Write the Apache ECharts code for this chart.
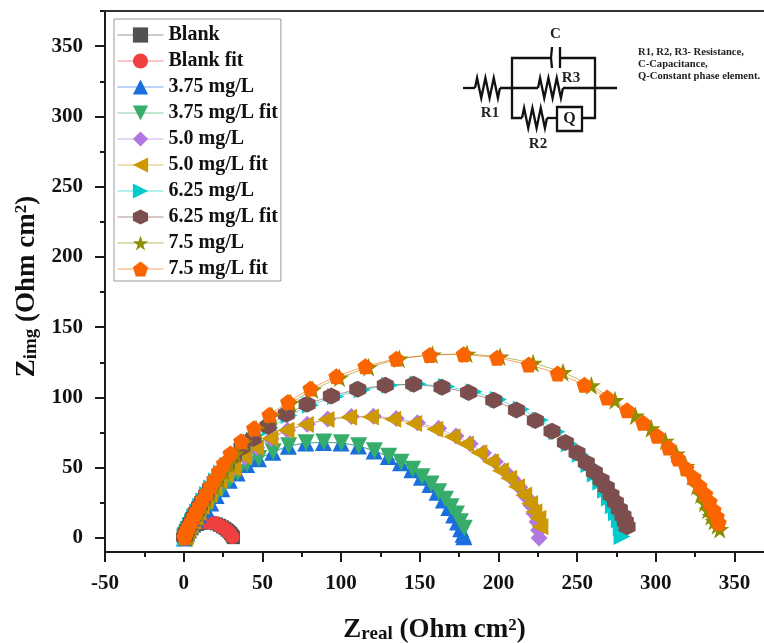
<!DOCTYPE html>
<html>
<head>
<meta charset="utf-8">
<style>html,body{margin:0;padding:0;background:#fff}#chart{width:764px;height:643px}</style>
<script src="https://cdn.jsdelivr.net/npm/echarts@6/dist/echarts.min.js"></script>
</head>
<body>
<div id="chart"></div>
<script>
// tick values
var xMajor = [-50, 0, 50, 100, 150, 200, 250, 300, 350];
var xMinor = [-25, 25, 75, 125, 175, 225, 275, 325];
var yMajor = [0, 50, 100, 150, 200, 250, 300, 350];
var yMinor = [25, 75, 125, 175, 225, 275, 325, 375];

var seriesNames = ['Blank', 'Blank fit', '3.75 mg/L', '3.75 mg/L fit', '5.0 mg/L', '5.0 mg/L fit', '6.25 mg/L', '6.25 mg/L fit', '7.5 mg/L', '7.5 mg/L fit'];

// values, [Zreal, Zimg]
var blank = [[2,0.5],[2.8,3],[3.8,5],[5.2,7],[6.8,8.4],[8.8,9.6],[10.8,10.4],[12.8,10.9],[14.8,11.1],[16.8,11],[18.8,10.6],[20.8,10],[22.8,9],[24.6,7.9],[26.2,6.8],[27.6,5.6],[28.8,4.4],[29.8,3.2],[30.6,2.1],[31.2,1.1],[31.6,0.2]];
var blankFit = [[1,0.8],[2,3.2],[3,5.4],[4.4,7.4],[6,8.9],[8,10.1],[10,10.9],[12,11.3],[14,11.5],[16,11.4],[18,11],[20,10.4],[22,9.4],[23.8,8.3],[25.4,7.2],[26.9,6],[28.1,4.8],[29.1,3.6],[30,2.5],[30.6,1.5],[31,0.6]];
var c375 = [[0.5,0],[1.2,1.6],[2,3.6],[3,5.6],[4.3,8],[5.8,10.5],[7.5,13.3],[9.5,16.5],[11.5,19.5],[14,21.2],[17.2,24.8],[20.6,30.2],[24.2,35],[29,41],[34,46.2],[40,52.2],[47.5,56.4],[56.6,61],[66.5,65.3],[77.6,67.5],[88.8,68],[100,67.6],[111,65.5],[121,61.8],[130,58],[137.8,53.6],[145,48.6],[151,43.2],[156.5,38],[161,32.5],[165,27],[168.5,21.6],[171.5,16.4],[174,11.4],[176,6.6],[177.5,2.6],[178,0.8]];
var c375Fit = [[0.5,0.5],[1.2,2],[2,4],[3,6],[4.3,8.5],[5.8,11],[7.5,13.8],[9.5,17],[11.5,20],[14.2,21.5],[17.4,25],[20.8,30.5],[24.4,35.3],[29.2,41.2],[34.3,46.4],[40.3,52.6],[47.7,56.6],[56.8,61.3],[66.7,65.6],[77.8,67.7],[89,68.2],[100.2,67.7],[111.2,65.6],[121.2,62],[130.3,58.2],[138.1,53.8],[145.5,48.8],[151.5,43.5],[157.2,38.4],[162,32.9],[166.3,27.5],[169.9,22.2],[173.3,17],[175.8,11.6],[178.3,6.9]];
var c50 = [[1,0],[1.8,2],[2.5,4],[3.5,6.5],[4.7,9],[6.2,12],[7.7,15],[9.7,18.5],[11.7,22.5],[14.2,26.5],[16.7,31],[19.7,35.5],[23.2,40.5],[27.2,46],[31.8,49.8],[38.8,57.5],[46.4,64.2],[55.5,70.6],[66,76.6],[78.5,81],[91.5,84.6],[106.5,86.4],[120.5,86.6],[135,85],[148.5,82],[162,78],[173,72.5],[182,67],[190.5,60.5],[198,54.2],[204,47.6],[209,42],[213.5,36],[217.5,29.5],[220.5,23.5],[222.5,17.5],[224.5,11.5],[225.5,5.5],[225.8,0]];
var c50Fit = [[0.5,0.5],[1.1,2],[1.8,4],[2.8,6.5],[4,9],[5.5,12],[7,15],[9,18.5],[11,22.5],[13.5,26.5],[16,31],[19,35.5],[22.5,40.5],[26.5,45],[31.1,49.5],[38.1,57.7],[45.6,64.4],[54.7,70.8],[65,76.7],[77.3,80.7],[90.4,84.3],[104.8,85.9],[118.6,86.1],[132.8,84.5],[146.1,81.5],[159.5,77.4],[170.5,72],[179,66.8],[187.5,60.6],[194.9,54.2],[201.2,47.8],[206.5,42.4],[211.4,36.4],[216,30.5],[219.8,24.6],[222.5,18.7],[225,14],[226.3,8]];
var c625 = [[1,0],[1.6,2],[2.3,4],[3.2,6],[4.3,8.5],[5.6,11.5],[7,15],[8.8,18.5],[10.8,22.5],[12.8,26.5],[15.2,31],[17.8,35.5],[20.8,40.5],[24,46],[28,51.5],[32.5,57.5],[38,63.5],[45,69.5],[55,78.5],[67,87.2],[80.5,94.5],[96.5,100.6],[113.5,105.5],[131,108.7],[149,109.6],[167,107.8],[184.5,104],[200,98.6],[214.5,91.6],[226.5,84],[237.2,75.6],[245,67],[252,59.6],[257.5,52.3],[261.5,45.5],[265,39.8],[268,34],[270.5,28.4],[273,23],[275,18],[276.8,13],[278,7.5],[278.5,1]];
var c625Fit = [[0.5,0.5],[1,2],[1.6,4],[2.5,6],[3.5,8.5],[4.8,11.5],[6.3,15],[8,18.5],[10,22.5],[12,26.5],[14.5,31],[17,35.5],[20,40.5],[23,46],[27,52],[31.5,58],[37,64.5],[44.1,70.8],[53.6,79.5],[65.2,88.1],[78.4,95.2],[93.8,101.1],[110.6,105.8],[128.1,108.7],[146.1,109.4],[164.1,107.2],[181,103.5],[197,98],[211.4,91.1],[223.4,83.6],[234,76],[242.5,68],[249.9,60.6],[255.8,53.5],[260.9,46.9],[265.2,41.2],[268.5,36],[271.5,30.5],[274.3,25.4],[276.8,20.4],[279.1,15.6],[280.6,11.6],[281.7,8]];
var c75 = [[1,0],[1.5,2],[2.2,4],[3.2,6.5],[4.5,9],[6,12],[7.5,15],[9.5,19],[11.5,23],[14,27.5],[16.5,32],[19.5,37],[22.5,42],[25.5,47.5],[29,53],[33,60],[38,68],[46,77.5],[56,87],[68,96],[82,105.5],[99,114],[117.5,121.5],[137,127.5],[158,130.5],[180,131],[201,129],[222,124.5],[241,118],[259,108.5],[274,98],[287,87],[297,78],[306,69],[313,60],[319,51],[323,44],[326,37],[328.5,31],[331,25],[333,20],[335,15.5],[337,12],[339,9],[340.6,6.2]];
var c75Fit = [[0.5,0.5],[1,2],[1.5,4],[2.5,6.5],[3.5,9],[5,12],[6.5,15.5],[8,19],[10,23],[12,27.5],[14.5,32],[17,37],[19.5,42],[22.5,47.5],[25.5,53],[29.7,60.1],[36.5,68.9],[44.7,78.1],[54.4,87.6],[66.3,96.8],[80.5,106.3],[97,115],[115.4,122.2],[135.1,127.6],[156.3,130.2],[177.9,130.7],[199.1,128.3],[219.2,123.4],[237.6,117],[254.6,109.1],[269,99.9],[281.7,90.9],[291.9,81.9],[300.8,72.7],[308.1,64.4],[314.1,56.6],[319.4,49.5],[324,43.1],[327.8,37.1],[331.4,31.2],[334.2,25.8],[336.7,19.9],[338.8,15.1],[339.9,10.9]];

var allData = [blank, blankFit, c375, c375Fit, c50, c50Fit, c625, c625Fit, c75, c75Fit];
var colors = ['#515151', '#F14040', '#1A6FDF', '#37AD6B', '#B177DE', '#CC9900', '#00CBCC', '#7D4E4E', '#8E8E00', '#FB6501'];

var pentagon = 'path://M50 0 L100 38 L81 100 L19 100 L0 38Z';
var hexagon = 'path://M50 0 L93 25 L93 75 L50 100 L7 75 L7 25Z';
var star = 'path://M50 0 L62 35 L98 35 L68 57 L79 91 L50 70 L21 91 L32 57 L2 35 L38 35Z';
var symbols = ['rect', 'circle', 'triangle', 'triangle', 'diamond', 'triangle', 'triangle', hexagon, star, pentagon];
var rotates = [0, 0, 0, 180, 0, 90, -90, 0, 0, 0];
var sizes = [13, 14, 17, 17, 17, 17, 17, 17, 19, 16];

var serif = '"Liberation Serif", "Times New Roman", serif';
var ink = '#1a1a1a';

var series = [];
for (var i = 0; i < allData.length; i++) {
    series.push({
        name: seriesNames[i],
        type: 'line',
        data: allData[i],
        symbol: symbols[i],
        symbolSize: sizes[i],
        symbolRotate: rotates[i],
        showAllSymbol: true,
        clip: false,
        itemStyle: {color: colors[i], opacity: 1},
        lineStyle: {color: colors[i], width: 1, opacity: 0.6}
    });
}

// zigzag of a resistor in the inset
function zig(x0, x1, y, amp) {
    var pts = [[x0, y]];
    var n = 6;
    for (var k = 0; k < n; k++) {
        pts.push([x0 + (x1 - x0) * (k + 0.5) / n, y + (k % 2 ? amp : -amp)]);
    }
    pts.push([x1, y]);
    return pts;
}
function wire(pts) {
    return {type: 'polyline', z: 20, shape: {points: pts}, style: {stroke: '#111', lineWidth: 2.3, fill: null}};
}
function label(x, y, txt, size, align) {
    return {type: 'text', z: 20, x: x, y: y, style: {text: txt, font: 'bold ' + size + 'px ' + serif, fill: '#222', align: align || 'center', verticalAlign: 'middle'}};
}

var inset = [
    wire([[463, 88], [475, 88]]),
    wire(zig(475, 500, 88, 10)),
    wire([[500, 88], [538, 88]]),
    wire(zig(538, 563, 88, 10)),
    wire([[563, 88], [617, 88]]),
    wire([[552, 58], [512, 58], [512, 118], [522, 118]]),
    wire([[560, 58], [595, 58], [595, 118], [582, 118]]),
    wire(zig(522, 547, 118, 10)),
    wire([[547, 118], [557, 118]]),
    wire([[552, 47], [551, 58], [552, 68]]),
    wire([[560, 47], [560, 68]]),
    {type: 'rect', z: 20, shape: {x: 557, y: 107, width: 25, height: 24}, style: {stroke: '#111', lineWidth: 2.3, fill: '#fff'}},
    label(569.5, 119, 'Q', 16),
    label(555.5, 34, 'C', 15),
    label(571, 78, 'R3', 15),
    label(490, 113, 'R1', 15),
    label(538, 144, 'R2', 15),
    label(638, 52, 'R1, R2, R3- Resistance,', 10.6, 'left'),
    label(638, 64, 'C-Capacitance,', 10.6, 'left'),
    label(638, 76, 'Q-Constant phase element.', 10.6, 'left')
];

var titleRich = {
    n: {fontFamily: serif, fontWeight: 'bold', fontSize: 27, color: '#111'},
    sub: {fontFamily: serif, fontWeight: 'bold', fontSize: 19, color: '#111', verticalAlign: 'bottom', padding: [8, 0, 0, 0]},
    sup: {fontFamily: serif, fontWeight: 'bold', fontSize: 17, color: '#111', verticalAlign: 'top', padding: [0, 0, 8, 0]}
};

var axisLine = {onZero: false, lineStyle: {color: ink, width: 2}};
var tickLine = {color: ink, width: 2};
var xRange = {type: 'value', min: -50, max: 368.7, splitLine: {show: false}};
var yRange = {type: 'value', min: -10, max: 375, splitLine: {show: false}};

var chart = echarts.init(document.getElementById('chart'));
chart.setOption({
    animation: false,
    backgroundColor: '#fff',
    grid: {left: 105, right: 0, top: 11, bottom: 91, outerBoundsMode: 'none'},
    legend: {
        orient: 'vertical',
        left: 114,
        top: 19,
        padding: [6, 3, 2, 3],
        itemWidth: 46,
        itemHeight: 19,
        itemGap: 6,
        borderColor: '#999',
        borderWidth: 1,
        backgroundColor: '#fff',
        lineStyle: {width: 1, opacity: 0.6},
        data: seriesNames,
        textStyle: {fontFamily: serif, fontWeight: 'bold', fontSize: 20, color: '#111'}
    },
    xAxis: [
        Object.assign({}, xRange, {
            position: 'bottom',
            name: '{n|Z}{sub|real}{n| (Ohm cm}{sup|2}{n|)}',
            nameLocation: 'middle',
            nameGap: 65,
            nameTextStyle: {rich: titleRich},
            axisLine: axisLine,
            axisTick: {show: true, length: 10, lineStyle: tickLine, customValues: xMajor},
            axisLabel: {customValues: xMajor, margin: 21, fontFamily: serif, fontWeight: 'bold', fontSize: 21, color: '#111'}
        }),
        Object.assign({}, xRange, {
            position: 'bottom',
            axisLine: {show: false, onZero: false},
            axisTick: {show: true, length: 5, lineStyle: tickLine, customValues: xMinor},
            axisLabel: {show: false}
        }),
        Object.assign({}, xRange, {
            position: 'top',
            axisLine: {onZero: false, lineStyle: {color: '#333', width: 2}},
            axisTick: {show: false},
            axisLabel: {show: false}
        })
    ],
    yAxis: [
        Object.assign({}, yRange, {
            position: 'left',
            name: '{n|Z}{sub|img}{n| (Ohm cm}{sup|2}{n|)}',
            nameLocation: 'middle',
            nameGap: 60,
            nameTextStyle: {rich: titleRich, padding: [0, 10, 0, 0]},
            axisLine: axisLine,
            axisTick: {show: true, length: 10, lineStyle: tickLine, customValues: yMajor},
            axisLabel: {customValues: yMajor, margin: 22, fontFamily: serif, fontWeight: 'bold', fontSize: 21, color: '#111'}
        }),
        Object.assign({}, yRange, {
            position: 'left',
            axisLine: {show: false, onZero: false},
            axisTick: {show: true, length: 5, lineStyle: tickLine, customValues: yMinor},
            axisLabel: {show: false}
        })
    ],
    series: series,
    graphic: inset
});
</script>
</body>
</html>
